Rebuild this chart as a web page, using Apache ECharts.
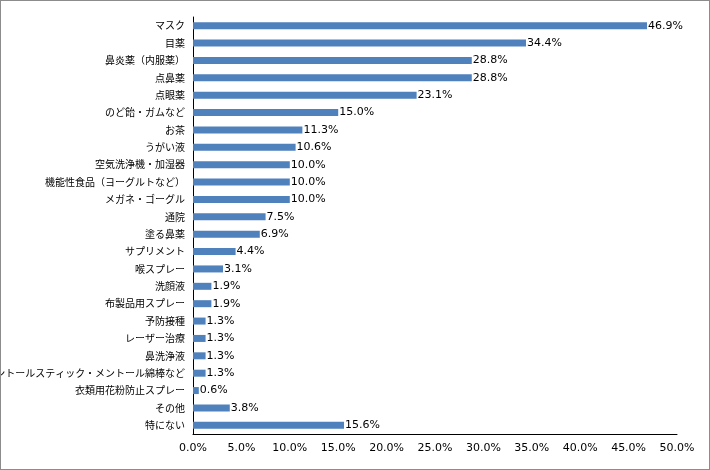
<!DOCTYPE html>
<html><head><meta charset="utf-8">
<script src="https://cdn.jsdelivr.net/npm/echarts@6/dist/echarts.min.js"></script>
<style>
html,body{margin:0;padding:0;background:#fff;}
#c{position:absolute;left:0;top:0;width:708px;height:468px;border:1px solid #8c8c8c;}
</style></head>
<body><div id="c"></div>
<script>
const categories = ["マスク","目薬","鼻炎薬（内服薬）","点鼻薬","点眼薬","のど飴・ガムなど","お茶","うがい液","空気洗浄機・加湿器","機能性食品（ヨーグルトなど）","メガネ・ゴーグル","通院","塗る鼻薬","サプリメント","喉スプレー","洗顔液","布製品用スプレー","予防接種","レーザー治療","鼻洗浄液","鼻メントールスティック・メントール綿棒など","衣類用花粉防止スプレー","その他","特にない"];
const values = [46.9,34.4,28.8,28.8,23.1,15.0,11.3,10.6,10.0,10.0,10.0,7.5,6.9,4.4,3.1,1.9,1.9,1.3,1.3,1.3,1.3,0.6,3.8,15.6];
const xTicks = {min:0, max:50, interval:5};

const cjk = '"Noto Sans CJK JP", sans-serif';
const num = '"DejaVu Sans", sans-serif';
const chart = echarts.init(document.getElementById('c'), null, {renderer:'canvas'});
chart.setOption({
  animation:false,
  backgroundColor:'#fff',
  grid:{left:192, right:32, top:16, bottom:35, containLabel:false, outerBoundsMode:'none'},
  xAxis:{type:'value', min:xTicks.min, max:xTicks.max, interval:xTicks.interval,
    axisLine:{show:true, lineStyle:{color:'#000', width:1}},
    axisTick:{show:false}, splitLine:{show:false},
    axisLabel:{color:'#000', fontSize:11, fontFamily:num, margin:9,
      formatter:v=>v.toFixed(1)+'%'}},
  yAxis:{type:'category', data:categories, inverse:true,
    axisLine:{show:true, lineStyle:{color:'#000', width:1}},
    axisTick:{show:false},
    axisLabel:{color:'#000', fontSize:10, fontFamily:cjk, margin:8}},
  series:[{type:'bar', data:values, barWidth:7,
    itemStyle:{color:'#4F81BD'},
    label:{show:true, position:'right', distance:1, color:'#000', fontSize:11, fontFamily:num,
      formatter:p=>p.value.toFixed(1)+'%'}}]
});
</script></body></html>
